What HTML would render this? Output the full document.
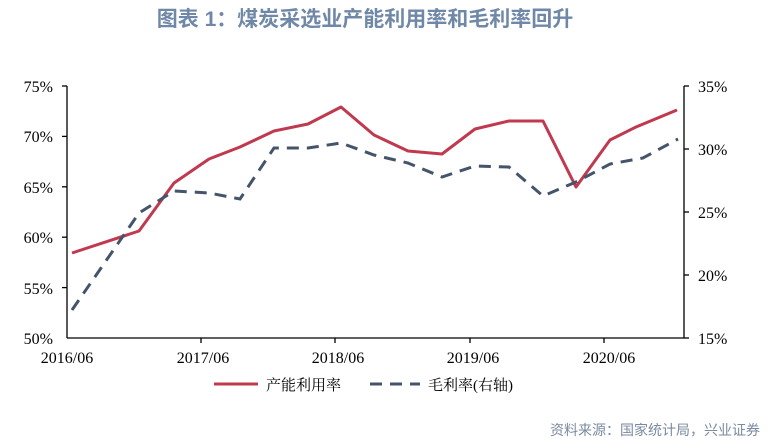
<!DOCTYPE html>
<html><head><meta charset="utf-8"><style>
body{margin:0;background:#fff;width:767px;height:444px;overflow:hidden}
svg{display:block}
</style></head><body>
<svg width="767" height="444" xmlns="http://www.w3.org/2000/svg">
<text x="365" y="26" text-anchor="middle" font-family="'Liberation Sans','Noto Sans CJK SC',sans-serif" font-size="21" font-weight="bold" fill="#7088a8">图表 1：煤炭采选业产能利用率和毛利率回升</text>
<g stroke="#000" stroke-width="1.3" fill="none">
<line x1="67" y1="86" x2="67" y2="338"/>
<line x1="684" y1="86" x2="684" y2="338"/>
<line x1="67" y1="338" x2="684" y2="338"/>
<line x1="62" y1="86" x2="67" y2="86"/><line x1="62" y1="136.4" x2="67" y2="136.4"/><line x1="62" y1="186.8" x2="67" y2="186.8"/><line x1="62" y1="237.2" x2="67" y2="237.2"/><line x1="62" y1="287.6" x2="67" y2="287.6"/>
<line x1="684" y1="86" x2="689" y2="86"/><line x1="684" y1="149" x2="689" y2="149"/><line x1="684" y1="212" x2="689" y2="212"/><line x1="684" y1="275" x2="689" y2="275"/><line x1="684" y1="338" x2="689" y2="338"/>
<line x1="201" y1="338" x2="201" y2="343"/><line x1="335" y1="338" x2="335" y2="343"/><line x1="470" y1="338" x2="470" y2="343"/><line x1="604" y1="338" x2="604" y2="343"/>
</g>
<g font-family="'Liberation Serif',serif" font-size="16" fill="#000">
<g text-anchor="end">
<text x="53" y="92">75%</text><text x="53" y="142">70%</text><text x="53" y="193">65%</text><text x="53" y="243">60%</text><text x="53" y="294">55%</text><text x="53" y="344">50%</text>
</g>
<g>
<text x="698" y="92">35%</text><text x="698" y="155">30%</text><text x="698" y="218">25%</text><text x="698" y="281">20%</text><text x="698" y="344">15%</text>
</g>
<g text-anchor="middle">
<text x="67" y="363">2016/06</text><text x="203" y="363">2017/06</text><text x="338" y="363">2018/06</text><text x="473" y="363">2019/06</text><text x="609" y="363">2020/06</text>
</g>
</g>
<polyline fill="none" stroke="#c0394f" stroke-width="3" stroke-linejoin="round" points="72,253 139,231 174,183 209,159 240,147 274,131 308,124 341,107 374,135 408,151 442,154 475,129 509,121 543,121 576,187 610,140 636,127 677,110"/>
<polyline fill="none" stroke="#44546a" stroke-width="3" stroke-dasharray="12,8" points="72,310 139,213 174,191 209,193 240,199 274,148 308,148 341,143 374,155 408,163 442,177 475,166 509,167 543,196 576,182 610,164 643,158 678,139"/>
<line x1="214" y1="384" x2="258" y2="384" stroke="#c0394f" stroke-width="3"/>
<text x="266" y="390" font-family="'Liberation Serif','Noto Serif CJK SC',serif" font-size="15" fill="#000">产能利用率</text>
<line x1="370" y1="384" x2="420" y2="384" stroke="#44546a" stroke-width="3" stroke-dasharray="12,8"/>
<text x="428" y="390" font-family="'Liberation Serif','Noto Serif CJK SC',serif" font-size="15" fill="#000">毛利率(右轴)</text>
<text x="760" y="435" text-anchor="end" font-family="'Liberation Sans','Noto Sans CJK SC',sans-serif" font-size="14" fill="#7a8aa0">资料来源：国家统计局，兴业证券</text>
</svg>
</body></html>
